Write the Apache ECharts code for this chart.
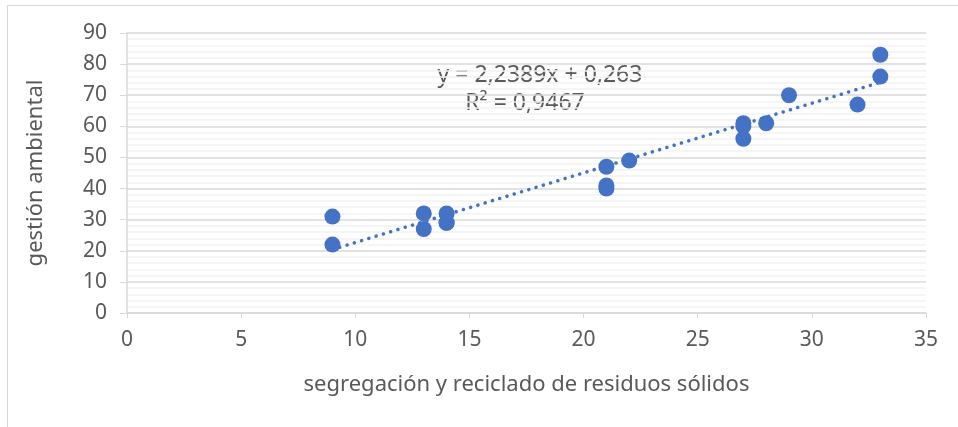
<!DOCTYPE html>
<html>
<head>
<meta charset="utf-8">
<script src="https://cdn.jsdelivr.net/npm/echarts@6/dist/echarts.min.js"></script>
<style>
  html, body { margin: 0; padding: 0; background: #fff; }
  #frame { position: absolute; left: 7px; top: 5px; width: 960px; height: 430px; border: 1px solid #d9d9d9; box-sizing: border-box; }
  #chart { position: absolute; left: 0; top: 0; width: 958px; height: 427px; }
</style>
</head>
<body>
<div id="frame"></div>
<div id="chart"></div>
<script>
// segregación y reciclado (x) vs gestión ambiental (y)
const xValues = [9, 9, 13, 13, 14, 14, 14, 21, 21, 21, 22, 27, 27, 27, 28, 29, 32, 33, 33]
const yValues = [31, 22, 32, 27, 32, 29, 29, 47, 41, 40, 49, 61, 60, 56, 61, 70, 67, 83, 76]

const slope = 2.2389
const intercept = 0.263
const trendLabel = 'y = 2,2389x + 0,263'
const r2Label = 'R² = 0,9467'

const xName = 'segregación y reciclado de residuos sólidos'
const yName = 'gestión ambiental'

const points = xValues.map((x, i) => [x, yValues[i]])
const xMin = Math.min(...xValues)
const xMax = Math.max(...xValues)
const trend = [[xMin, slope * xMin + intercept], [xMax, slope * xMax + intercept]]

const chart = echarts.init(document.getElementById('chart'))
const font = 'Noto Sans'
const grey = '#595959'

chart.setOption({
  animation: false,
  grid: { left: 127, right: 32, top: 33, bottom: 114 },
  xAxis: {
    type: 'value',
    min: 0,
    max: 35,
    interval: 5,
    name: xName,
    nameLocation: 'middle',
    nameGap: 61,
    nameTextStyle: { color: grey, fontSize: 22, fontFamily: font },
    axisLine: { show: true, onZero: false, lineStyle: { color: '#d9d9d9', width: 1.5 } },
    axisTick: { show: true, length: 5, lineStyle: { color: '#d9d9d9' } },
    axisLabel: { color: grey, fontSize: 21, fontFamily: font, margin: 17 },
    splitLine: { show: false }
  },
  yAxis: {
    type: 'value',
    min: 0,
    max: 90,
    interval: 10,
    name: yName,
    nameLocation: 'middle',
    nameGap: 80,
    nameTextStyle: { color: grey, fontSize: 22, fontFamily: font },
    axisLine: { show: true, lineStyle: { color: '#d9d9d9', width: 1.5 } },
    axisTick: { show: true, length: 7, lineStyle: { color: '#d9d9d9' } },
    axisLabel: { color: grey, fontSize: 21, fontFamily: font, margin: 20 },
    splitLine: { show: true, lineStyle: { color: '#d9d9d9', width: 1.5 } },
    minorTick: { show: false, splitNumber: 5 },
    minorSplitLine: { show: true, lineStyle: { color: '#f2f2f2', width: 1.5 } }
  },
  graphic: [
    {
      type: 'text',
      x: 540,
      y: 75,
      style: { text: trendLabel, fill: grey, fontSize: 23, fontFamily: font, align: 'center', verticalAlign: 'middle' }
    },
    {
      type: 'text',
      x: 525,
      y: 103,
      style: { text: r2Label, fill: grey, fontSize: 23, fontFamily: font, align: 'center', verticalAlign: 'middle' }
    }
  ],
  series: [
    {
      type: 'line',
      data: trend,
      symbol: 'none',
      lineStyle: { color: '#4472C4', width: 3.5, type: [0.1, 7.5], cap: 'round' },
      z: 1
    },
    {
      type: 'scatter',
      data: points,
      symbol: 'circle',
      symbolSize: 16,
      itemStyle: { color: '#4472C4', opacity: 1 },
      z: 2
    }
  ]
})
</script>
</body>
</html>
